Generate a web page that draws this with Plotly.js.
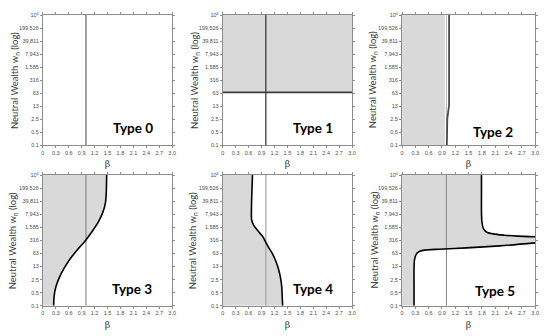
<!DOCTYPE html>
<html>
<head>
<meta charset="utf-8">
<script src="https://cdn.plot.ly/plotly-3.0.1.min.js"></script>
<style>html,body{margin:0;padding:0;background:#fff;}#chart{width:550px;height:336px;}</style>
</head>
<body>
<div id="chart"></div>
<script>
// ---- tick data ----
const betaTickVals = [0, 0.3, 0.6, 0.9, 1.2, 1.5, 1.8, 2.1, 2.4, 2.7, 3.0];
const betaTickText = ["0", "0.3", "0.6", "0.9", "1.2", "1.5", "1.8", "2.1", "2.4", "2.7", "3.0"];
const wealthTickVals = [0.1, 0.501, 2.512, 12.59, 63.1, 316.2, 1585, 7943, 39811, 199526, 1000000];
const wealthTickText = ["0.1", "0.5", "2.5", "13", "63", "316", "1,585", "7,943", "39,811", "199,526", "10<sup>6</sup>"];
const betaRange = [0, 3];
const wealthRange = [0.1, 1000000];
const panelLabels = ["Type 0", "Type 1", "Type 2", "Type 3", "Type 4", "Type 5"];
const yTitle = 'Neutral Wealth w<sub>n</sub> (log)';
const xTitle = 'β';
const referenceBeta = 1;

// ---- Type 1 ----
const type1Threshold = 70;

// ---- Type 2 ----
const type2FillEdge = 0.965;
const type2Beta = [1.01, 1.01, 1.02, 1.06, 1.06];
const type2Wealth = [0.1, 0.5, 2.7, 14, 1000000];

// ---- Type 3 ----
const type3Beta = [0.25, 0.26, 0.30, 0.38, 0.49, 0.63, 0.80, 0.99, 1.15, 1.29, 1.39, 1.45, 1.47, 1.48];
const type3Wealth = [0.1, 0.32, 1, 3.2, 10, 32, 100, 316, 1000, 3162, 10000, 31623, 100000, 1000000];

// ---- Type 4 ----
const type4Beta = [0.69, 0.675, 0.665, 0.67, 0.72, 0.82, 0.93, 1.00, 1.07, 1.15, 1.23, 1.29, 1.34, 1.37, 1.38, 1.39];
const type4Wealth = [1000000, 100000, 10000, 3981, 1995, 1000, 501, 251, 126, 63, 25, 10, 3.2, 1, 0.32, 0.1];

// ---- Type 5 ----
const type5LowerBeta = [0.27, 0.27, 0.27, 0.28, 0.31, 0.38, 0.5, 0.85, 1.45, 2.2, 3.0];
const type5LowerWealth = [0.1, 1, 10, 28, 52, 79, 95, 107, 126, 162, 234];
const type5UpperBeta = [1.79, 1.79, 1.79, 1.80, 1.83, 1.90, 2.05, 2.3, 2.6, 3.0];
const type5UpperWealth = [1000000, 100000, 10000, 3162, 1413, 891, 708, 603, 537, 501];

// ---- layout helpers ----
const xDomains = [[0.078, 0.313], [0.405, 0.640], [0.731, 0.973]];
const yDomains = [[0.568, 0.955], [0.090, 0.479]];
const FILL = '#d9d9d9';
const FRAME = '#8c8c8c';

const layout = {
  template: 'none',
  width: 550, height: 336,
  margin: {l: 0, r: 0, t: 0, b: 0},
  paper_bgcolor: '#fff', plot_bgcolor: '#fff',
  showlegend: false,
  font: {family: 'Lato, "Liberation Sans", sans-serif', color: '#333'},
  annotations: []
};

const labelPos = [[0.70, 0.13], [0.70, 0.13], [0.68, 0.10], [0.69, 0.125], [0.70, 0.125], [0.70, 0.115]];
const yTitleShift = [-28, -28, -29, -29, -29, -27];

for (let i = 0; i < 6; i++) {
  const col = i % 3, row = Math.floor(i / 3);
  const xs = i === 0 ? '' : String(i + 1);
  layout['xaxis' + xs] = {
    domain: xDomains[col], anchor: 'y' + xs,
    range: betaRange.slice(), tickmode: 'array', tickvals: betaTickVals, ticktext: betaTickText,
    showline: true, mirror: 'ticks', linecolor: FRAME, linewidth: 1,
    ticks: 'outside', ticklen: 2, tickcolor: FRAME, tickwidth: 1,
    tickfont: {size: 5.5, color: '#4d4d4d', family: '"Liberation Sans", sans-serif'},
    showgrid: false, zeroline: false, fixedrange: true,
    title: {text: xTitle, font: {size: 9.5, color: '#3a3a3a', family: '"DejaVu Serif", serif'}, standoff: 5}
  };
  layout['yaxis' + xs] = {
    domain: yDomains[row], anchor: 'x' + xs, type: 'log',
    range: [Math.log10(wealthRange[0]), Math.log10(wealthRange[1])],
    tickmode: 'array', tickvals: wealthTickVals, ticktext: wealthTickText,
    showline: true, mirror: 'ticks', linecolor: FRAME, linewidth: 1,
    ticks: 'outside', ticklen: 2, tickcolor: FRAME, tickwidth: 1,
    tickfont: {size: 5.5, color: '#4d4d4d', family: '"Liberation Sans", sans-serif'},
    showgrid: false, zeroline: false, fixedrange: true
  };
  layout.annotations.push({
    text: yTitle, showarrow: false, textangle: -90,
    xref: 'x' + xs + ' domain', yref: 'y' + xs + ' domain',
    x: 0, y: 0.5, xshift: yTitleShift[i], xanchor: 'center', yanchor: 'middle',
    font: {size: 9.5, color: '#3a3a3a', family: 'Lato, "Liberation Sans", sans-serif'}
  });
  layout.annotations.push({
    text: '<b>' + panelLabels[i] + '</b>', showarrow: false,
    xref: 'x' + xs + ' domain', yref: 'y' + xs + ' domain',
    x: labelPos[i][0], y: labelPos[i][1], xanchor: 'center', yanchor: 'middle',
    font: {size: 13.5, color: '#000', family: 'Lato, "Liberation Sans", sans-serif'}
  });
}

const traces = [];
function ax(i) { return i === 0 ? ['x', 'y'] : ['x' + (i + 1), 'y' + (i + 1)]; }
function refLine(i, color, width) {
  const [xa, ya] = ax(i);
  traces.push({x: [referenceBeta, referenceBeta], y: wealthRange.slice(), mode: 'lines',
    line: {color: color, width: width}, xaxis: xa, yaxis: ya, hoverinfo: 'skip'});
}

// Type 0
refLine(0, '#6e6e6e', 1.3);

// Type 1
(function () {
  const [xa, ya] = ax(1);
  traces.push({x: [betaRange[0], betaRange[1], betaRange[1], betaRange[0]],
    y: [type1Threshold, type1Threshold, wealthRange[1], wealthRange[1]],
    fill: 'toself', fillcolor: FILL, mode: 'lines', line: {width: 0}, xaxis: xa, yaxis: ya, hoverinfo: 'skip'});
  refLine(1, '#3c3c3c', 1.3);
  traces.push({x: betaRange.slice(), y: [type1Threshold, type1Threshold], mode: 'lines',
    line: {color: '#3c3c3c', width: 1.8}, xaxis: xa, yaxis: ya, hoverinfo: 'skip'});
})();

// Type 2
(function () {
  const [xa, ya] = ax(2);
  traces.push({x: [betaRange[0], type2FillEdge, type2FillEdge, betaRange[0]],
    y: [wealthRange[0], wealthRange[0], wealthRange[1], wealthRange[1]],
    fill: 'toself', fillcolor: FILL, mode: 'lines', line: {width: 0}, xaxis: xa, yaxis: ya, hoverinfo: 'skip'});
  refLine(2, '#b4b4b4', 1);
  traces.push({x: type2Beta, y: type2Wealth, mode: 'lines', line: {color: '#4a4a4a', width: 1.8},
    xaxis: xa, yaxis: ya, hoverinfo: 'skip'});
})();

// Type 3
(function () {
  const [xa, ya] = ax(3);
  traces.push({x: type3Beta, y: type3Wealth, mode: 'lines', fill: 'tozerox', fillcolor: FILL,
    line: {width: 0, shape: 'spline', smoothing: 0.7}, xaxis: xa, yaxis: ya, hoverinfo: 'skip'});
  refLine(3, '#7a7a7a', 1);
  traces.push({x: type3Beta, y: type3Wealth, mode: 'lines', line: {color: '#000', width: 1.6, shape: 'spline', smoothing: 0.7},
    xaxis: xa, yaxis: ya, hoverinfo: 'skip'});
})();

// Type 4
(function () {
  const [xa, ya] = ax(4);
  traces.push({x: type4Beta, y: type4Wealth, mode: 'lines', fill: 'tozerox', fillcolor: FILL,
    line: {width: 0, shape: 'spline', smoothing: 0.7}, xaxis: xa, yaxis: ya, hoverinfo: 'skip'});
  refLine(4, '#a8a8a8', 1.3);
  traces.push({x: type4Beta, y: type4Wealth, mode: 'lines', line: {color: '#000', width: 1.6, shape: 'spline', smoothing: 0.7},
    xaxis: xa, yaxis: ya, hoverinfo: 'skip'});
})();

// Type 5
(function () {
  const [xa, ya] = ax(5);
  const upRevB = type5UpperBeta.slice().reverse();
  const upRevW = type5UpperWealth.slice().reverse();
  const px = [betaRange[0]].concat(type5LowerBeta, upRevB, [betaRange[0]]);
  const py = [wealthRange[0]].concat(type5LowerWealth, upRevW, [wealthRange[1]]);
  traces.push({x: px, y: py, mode: 'lines', fill: 'toself', fillcolor: FILL,
    line: {width: 0}, xaxis: xa, yaxis: ya, hoverinfo: 'skip'});
  refLine(5, '#858585', 1);
  traces.push({x: type5LowerBeta, y: type5LowerWealth, mode: 'lines', line: {color: '#000', width: 1.6, shape: 'spline', smoothing: 0.8},
    xaxis: xa, yaxis: ya, hoverinfo: 'skip'});
  traces.push({x: type5UpperBeta, y: type5UpperWealth, mode: 'lines', line: {color: '#000', width: 1.6, shape: 'spline', smoothing: 0.8},
    xaxis: xa, yaxis: ya, hoverinfo: 'skip'});
})();

Plotly.newPlot('chart', traces, layout, {staticPlot: true, displayModeBar: false});
</script>
</body>
</html>
